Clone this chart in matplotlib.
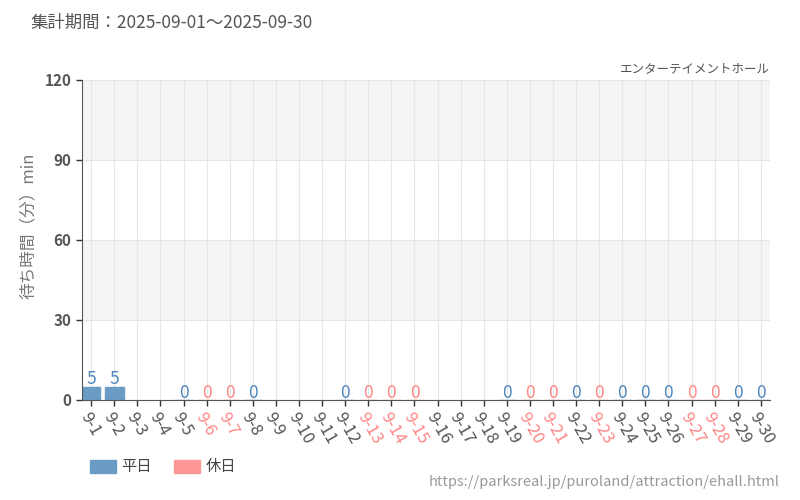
import numpy as np
import matplotlib.pyplot as plt
from matplotlib.patches import Patch

plt.rcParams['font.family'] = ['Noto Sans CJK JP', 'DejaVu Sans']

# データ
dates = ['9-%d' % d for d in range(1, 31)]
waits = [5, 5, None, None, 0, 0, 0, 0, None, None, None, 0, 0, 0, 0,
         None, None, None, 0, 0, 0, 0, 0, 0, 0, 0, 0, 0, 0, 0]
holidays = ['9-6', '9-7', '9-13', '9-14', '9-15', '9-20', '9-21', '9-23', '9-27', '9-28']
y_ticks = [0, 30, 60, 90, 120]

c_week = '#6a9bc4'
c_hol = '#ff9797'
c_week_txt = '#4c86bd'
c_hol_txt = '#ff8585'

fig = plt.figure(figsize=(8, 5), dpi=100)
ax = fig.add_axes([0.1025, 0.2, 0.86, 0.64])

x = np.arange(len(dates))

# 背景の帯
for i in range(len(y_ticks) - 1):
    if i % 2 == 1:
        ax.axhspan(y_ticks[i], y_ticks[i + 1], color='#f5f5f5', zorder=0, lw=0)
for yt in y_ticks[1:]:
    ax.axhline(yt, color='#e6e6e6', lw=0.8, zorder=1)
for xi in x:
    ax.axvline(xi, color='#e6e6e6', lw=0.8, zorder=1)

for xi, d, v in zip(x, dates, waits):
    if v is None:
        continue
    hol = d in holidays
    col = c_hol if hol else c_week
    ax.bar(xi, v, width=0.8, color=col, edgecolor=col, lw=1, zorder=2)
    ax.text(xi, v + 0.9, str(v), ha='center', va='baseline', fontsize=12.5,
            color=c_hol_txt if hol else c_week_txt, zorder=3)

ax.set_xlim(-0.4, len(dates) - 0.6)
ax.set_ylim(0, 120)
ax.set_yticks(y_ticks)
ax.set_yticklabels([str(t) for t in y_ticks], fontsize=11, fontweight='bold', color='#555555')
ax.set_xticks(x)
ax.set_xticklabels(dates, rotation=-60, ha='left', va='top', rotation_mode='anchor',
                   fontsize=12, color='#555555')
for lbl in ax.get_xticklabels():
    if lbl.get_text() in holidays:
        lbl.set_color(c_hol_txt)
ax.tick_params(axis='both', length=4, color='#333333', width=1)
ax.tick_params(axis='x', pad=3)

for s in ['top', 'right']:
    ax.spines[s].set_visible(False)
ax.spines['left'].set_color('#555555')
ax.spines['bottom'].set_color('#555555')

fig.text(0.036, 0.548, '待ち時間（分）min', fontsize=12, color='#777777', rotation=90,
         ha='center', va='center')

fig.text(0.0375, 0.955, '集計期間：2025-09-01～2025-09-30', fontsize=12.5, color='#555555', va='center')
fig.text(0.9625, 0.862, 'エンターテイメントホール', fontsize=9, color='#555555', ha='right', va='center')
fig.text(0.975, 0.036, 'https://parksreal.jp/puroland/attraction/ehall.html', fontsize=10.5,
         color='#999999', ha='right', va='center')

handles = [Patch(color=c_week, label='平日'), Patch(color=c_hol, label='休日')]
fig.legend(handles=handles, loc='center left', bbox_to_anchor=(0.1125, 0.066), ncol=2, frameon=False,
           borderpad=0, borderaxespad=0, fontsize=11, handlelength=1.7, handleheight=0.92,
           handletextpad=0.33, columnspacing=1.5, labelcolor='#444444')

fig.savefig('out.png', dpi=100)
